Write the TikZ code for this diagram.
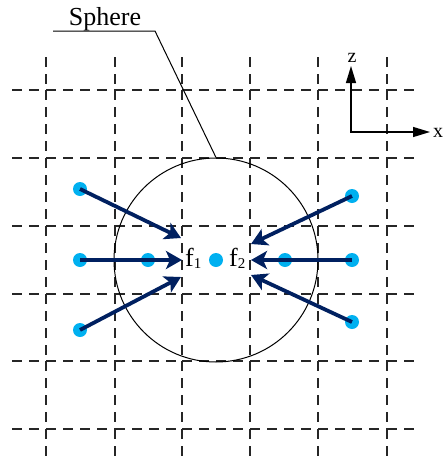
\documentclass[tikz,border=0pt]{standalone}
\usepackage{fontspec}
\setmainfont{Liberation Serif}
\usetikzlibrary{arrows.meta}
\definecolor{navy}{RGB}{0,32,96}
\definecolor{dotblue}{RGB}{0,176,240}
\begin{document}
\begin{tikzpicture}[x=1pt,y=-1pt,
  gridline/.style={draw=black!85, line width=1.4pt, dash pattern=on 10pt off 7pt},
  dotnode/.style={circle, fill=dotblue, inner sep=0pt, minimum size=14pt},
  force/.style={draw=navy, line width=3.8pt, -{Stealth[length=16pt,width=18pt,inset=4pt]}},
  axis/.style={draw=black, line width=1.3pt, {Triangle[length=17pt,width=10pt]}-{Triangle[length=17pt,width=10pt]}},
  lbl/.style={font=\fontsize{26}{30}\selectfont, inner sep=0pt},
  axlbl/.style={font=\fontsize{20}{24}\selectfont, inner sep=0pt},
]
\useasboundingbox (0,0) rectangle (444,461);

% grid
\foreach \y in {90,158,226,294,361,429} {
  \foreach \a/\b in {12/46,46/115,115/182,182/250,250/318,318/387,387/415}
    \draw[gridline] (\a,\y) -- (\b,\y);
}
\foreach \x in {46,115,182,250,318,387} {
  \foreach \a/\b in {57/90,90/158,158/226,226/294,294/361,361/429,429/461}
    \draw[gridline] (\x,\a) -- (\x,\b);
}

% sphere
\node[circle, draw, line width=1pt, minimum size=204pt, inner sep=0pt] (sphere) at (216,260) {};
\node[lbl, anchor=base] (sphlabel) at (105,25) {Sphere};
\coordinate (lead) at (53,31);
\coordinate (kink) at (155,31);
\draw[line width=1pt] (lead) -- (kink) -- (sphere.north);

% axes
\coordinate (O) at (351,132);
\coordinate (ztip) at (351,66);
\coordinate (xtip) at (430,132);
\draw[axis] (ztip) -- (O) -- (xtip);
\node[axlbl, anchor=base] (zlab) at (352,62) {z};
\node[axlbl, anchor=base west] (xlab) at (433,137) {x};

% dots
\node[dotnode] (L1) at (80,189) {};
\node[dotnode] (L2) at (80,260) {};
\node[dotnode] (L3) at (80,330) {};
\node[dotnode] (Li) at (148,260) {};
\node[dotnode] (C) at (216,260) {};
\node[dotnode] (Ri) at (285,260) {};
\node[dotnode] (R1) at (352,196) {};
\node[dotnode] (R2) at (352,260) {};
\node[dotnode] (R3) at (352,322) {};

% arrow tips
\coordinate (tL1) at (181,238);
\coordinate (tL2) at (182,260);
\coordinate (tL3) at (181,277);
\coordinate (tR1) at (251,244);
\coordinate (tR2) at (251,260);
\coordinate (tR3) at (251,275);

\draw[force] (L1.center) -- (tL1);
\draw[force] (L2.center) -- (tL2);
\draw[force] (L3.center) -- (tL3);
\draw[force] (R1.center) -- (tR1);
\draw[force] (R2.center) -- (tR2);
\draw[force] (R3.center) -- (tR3);

% labels
\node[lbl, anchor=base west] (f1) at (185,266) {f\raisebox{-2pt}{\fontsize{15}{15}\selectfont 1}};
\node[lbl, anchor=base west] (f2) at (229,266) {f\raisebox{-2pt}{\fontsize{15}{15}\selectfont 2}};
\end{tikzpicture}
\end{document}
